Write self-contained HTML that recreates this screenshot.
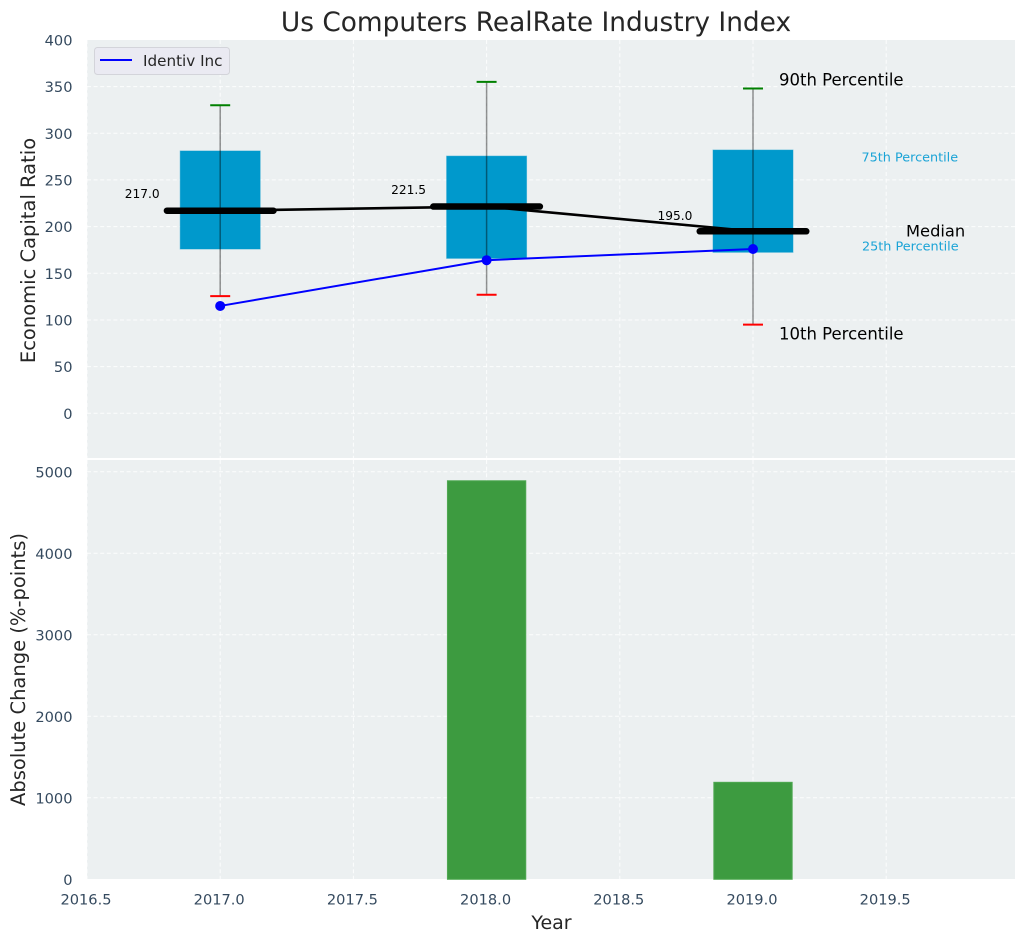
<!DOCTYPE html>
<html>
<head>
<meta charset="utf-8">
<title>Us Computers RealRate Industry Index</title>
<style>
html,body{margin:0;padding:0;background:#fff;width:1026px;height:942px;overflow:hidden}
svg{display:block;font-family:"DejaVu Sans","Liberation Sans",sans-serif}
</style>
</head>
<body>
<svg id="chart" xmlns="http://www.w3.org/2000/svg" width="1026" height="942" viewBox="0 0 1026 942"></svg>
<script>
const years = [2017, 2018, 2019];
const p90 = [330, 355, 348];
const p75 = [281, 275.5, 282];
const medians = [217, 221.5, 195];
const p25 = [176, 166, 172.5];
const p10 = [125.5, 127, 95];
const company = [115, 164, 176];
const changes = [0, 4890, 1190];
const medianLabels = ['217.0', '221.5', '195.0'];
const xTicks = [2016.5, 2017, 2017.5, 2018, 2018.5, 2019, 2019.5];
const xTickLabels = ['2016.5', '2017.0', '2017.5', '2018.0', '2018.5', '2019.0', '2019.5'];
const topTicks = [0, 50, 100, 150, 200, 250, 300, 350, 400];
const bottomTicks = [0, 1000, 2000, 3000, 4000, 5000];

const NS = 'http://www.w3.org/2000/svg';
const svg = document.getElementById('chart');
const L = 87, R = 1015, T1 = 40, B1 = 458, T2 = 460, B2 = 879;
const sx = v => 87 + (v - 2016.5) * 266.4;
const sy1 = v => 413.3 - v * 0.9335;
const sy2 = v => 879.3 - v * 0.0815;

function make(tag, attrs, text) {
  const el = document.createElementNS(NS, tag);
  for (const k in attrs) el.setAttribute(k, attrs[k]);
  if (text !== undefined) el.textContent = text;
  svg.appendChild(el);
  return el;
}
function panel(top, bottom, name) {
  const el = make('rect', {x: L, y: top, width: R - L, height: bottom - top, fill: '#ecf0f1'});
  
  
}
function gridV(top, bottom) {
  xTicks.forEach(t => {
    const el = make('line', {x1: sx(t), x2: sx(t), y1: top, y2: bottom, stroke: '#fff', 'stroke-width': 1, 'stroke-dasharray': '4 2.6', 'stroke-opacity': 0.85});
    
    
  });
}
function gridH(ticks, sc) {
  ticks.forEach(t => {
    const el = make('line', {x1: L, x2: R, y1: sc(t), y2: sc(t), stroke: '#fff', 'stroke-width': 1, 'stroke-dasharray': '4 2.6', 'stroke-opacity': 0.85});
    
    
  });
}
function yTickLabels(ticks, sc, name) {
  ticks.forEach(t => {
    const el = make('text', {x: 72.5, y: sc(t) + 5.5, 'text-anchor': 'end', 'font-size': 14.6, fill: '#34495e'}, String(t));
    
    
  });
}

panel(T1, B1, 'top-plot-area');
panel(T2, B2, 'bottom-plot-area');
gridV(T1, B1);
gridH(topTicks.filter(t => t < 400), sy1);
gridV(T2, B2);
gridH(bottomTicks.filter(t => t > 0), sy2);
yTickLabels(topTicks, sy1, 'top-y-tick-label');
yTickLabels(bottomTicks, sy2, 'bottom-y-tick-label');

xTicks.forEach((t, i) => {
  const el = make('text', {x: sx(t) - 1, y: 904.5, 'text-anchor': 'middle', 'font-size': 14.6, fill: '#34495e'}, xTickLabels[i]);
  
  
});

years.forEach((yr, i) => {
  const box = make('rect', {x: sx(yr - 0.15), y: sy1(p75[i]), width: sx(yr + 0.15) - sx(yr - 0.15), height: sy1(p25[i]) - sy1(p75[i]), fill: '#0099cc', stroke: '#0099cc', 'stroke-opacity': 0.5, 'stroke-width': 1});
  
  

  const whisker = make('line', {x1: sx(yr), x2: sx(yr), y1: sy1(p90[i]), y2: sy1(p10[i]), stroke: '#000', 'stroke-opacity': 0.42, 'stroke-width': 1.5});
  
  

  const capHi = make('line', {x1: sx(yr - 0.0375), x2: sx(yr + 0.0375), y1: sy1(p90[i]), y2: sy1(p90[i]), stroke: '#008000', 'stroke-width': 2});
  
  

  const capLo = make('line', {x1: sx(yr - 0.0375), x2: sx(yr + 0.0375), y1: sy1(p10[i]), y2: sy1(p10[i]), stroke: '#ff0000', 'stroke-width': 2});
  
  

  const bar = make('rect', {x: sx(yr - 0.147), y: sy2(changes[i]), width: sx(yr + 0.147) - sx(yr - 0.147), height: sy2(0) - sy2(changes[i]), fill: '#3d9b40', stroke: '#4fa852', 'stroke-width': 1});
  
  
});

const medianLine = make('polyline', {points: years.map((yr, i) => sx(yr) + ',' + sy1(medians[i])).join(' '), fill: 'none', stroke: '#000', 'stroke-width': 2.6});



years.forEach((yr, i) => {
  const m = make('line', {x1: sx(yr - 0.2), x2: sx(yr + 0.2), y1: sy1(medians[i]), y2: sy1(medians[i]), stroke: '#000', 'stroke-width': 6.5, 'stroke-linecap': 'round'});
  
  

  const lab = make('text', {x: sx(yr) - 95.5, y: sy1(medians[i]) - (i === 2 ? 11.5 : 12.5), 'font-size': 12.2, fill: '#000'}, medianLabels[i]);
  
  
});

const blueLine = make('polyline', {points: years.map((yr, i) => sx(yr) + ',' + sy1(company[i])).join(' '), fill: 'none', stroke: '#0000ff', 'stroke-width': 2});



years.forEach((yr, i) => {
  const dot = make('circle', {cx: sx(yr), cy: sy1(company[i]), r: 5, fill: '#0000ff'});
  
  
});

const last = years.length - 1;
const xLast = sx(years[last]);
const a90 = make('text', {x: xLast + 26, y: sy1(p90[last]) - 3, 'font-size': 16.5, fill: '#000'}, '90th Percentile');


const a10 = make('text', {x: xLast + 26, y: sy1(p10[last]) + 15, 'font-size': 16.5, fill: '#000'}, '10th Percentile');


const aMed = make('text', {x: xLast + 153, y: sy1(medians[last]) + 5, 'font-size': 16.3, fill: '#000'}, 'Median');


const a75 = make('text', {x: xLast + 108.5, y: sy1(p75[last]) + 11.5, 'font-size': 12.8, fill: '#1aa3d6'}, '75th Percentile');


const a25 = make('text', {x: xLast + 109, y: sy1(p25[last]) - 2, 'font-size': 12.8, fill: '#1aa3d6'}, '25th Percentile');



const legend = make('rect', {x: 94.5, y: 47.5, width: 135, height: 27, rx: 3, fill: '#eaeaf2', stroke: '#d3d4da', 'stroke-width': 1});


const legendLine = make('line', {x1: 100, x2: 132, y1: 60, y2: 60, stroke: '#0000ff', 'stroke-width': 2});


const legendText = make('text', {x: 143, y: 66, 'font-size': 15.2, fill: '#262626'}, 'Identiv Inc');



const title = make('text', {x: 536, y: 31, 'text-anchor': 'middle', 'font-size': 26.4, fill: '#262626'}, 'Us Computers RealRate Industry Index');


const xTitle = make('text', {x: 551.5, y: 929, 'text-anchor': 'middle', 'font-size': 19, fill: '#262626'}, 'Year');


const yTop = make('text', {transform: 'translate(35,250.5) rotate(-90)', 'text-anchor': 'middle', 'font-size': 19.5, fill: '#262626'}, 'Economic Capital Ratio');


const yBottom = make('text', {transform: 'translate(25,669.5) rotate(-90)', 'text-anchor': 'middle', 'font-size': 19.5, fill: '#262626'}, 'Absolute Change (%-points)');


</script>
</body>
</html>
